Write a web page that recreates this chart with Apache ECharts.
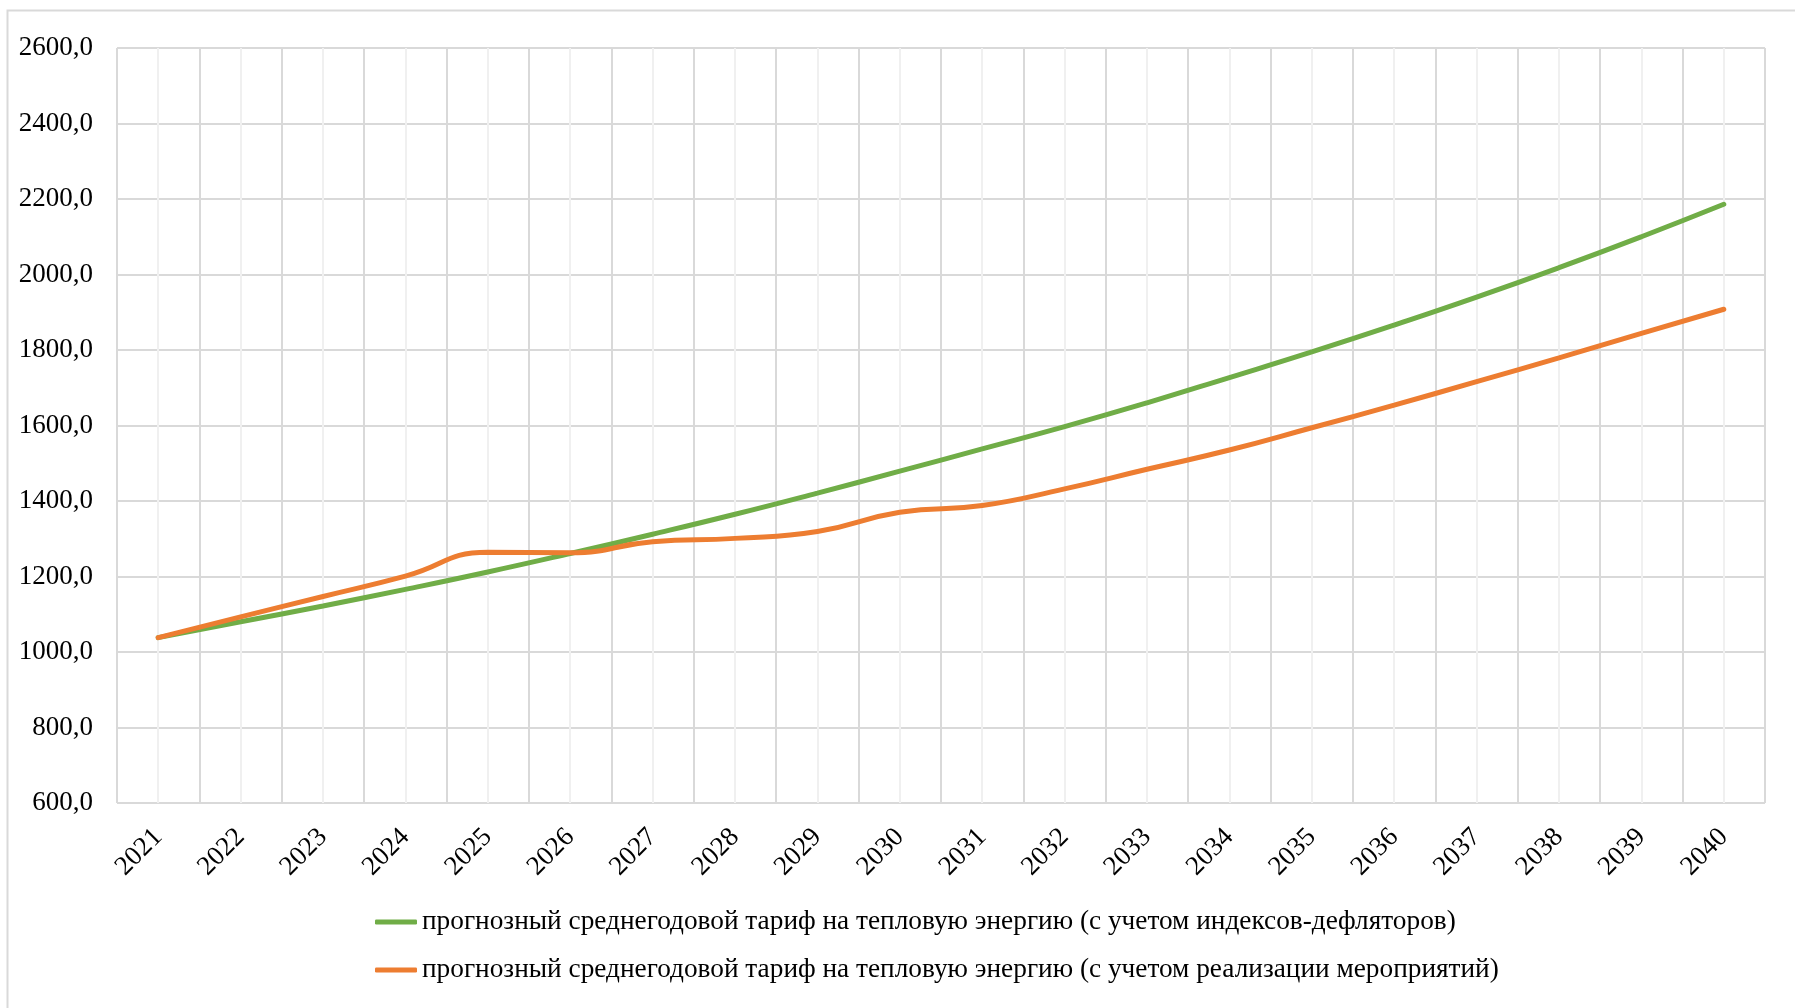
<!DOCTYPE html>
<html>
<head>
<meta charset="utf-8">
<script src="https://cdn.jsdelivr.net/npm/echarts@6/dist/echarts.min.js"></script>
<style>html,body{margin:0;padding:0;background:#fff;}#c{width:1795px;height:1008px;}</style>
</head>
<body>
<div id="c"></div>
<script>
const years = ['2021','2022','2023','2024','2025','2026','2027','2028','2029','2030','2031','2032','2033','2034','2035','2036','2037','2038','2039','2040'];
const seriesNames = [
  'прогнозный среднегодовой тариф на тепловую энергию (с учетом индексов-дефляторов)',
  'прогнозный среднегодовой тариф на тепловую энергию (с учетом реализации мероприятий)'
];
const deflatorValues = [1038, 1080, 1122, 1166, 1212, 1261, 1312, 1365, 1421, 1479, 1538, 1597, 1660, 1727, 1795, 1866, 1940, 2018, 2100, 2186];
const measuresValues = [1038, 1093, 1147, 1201, 1264, 1263, 1292, 1301, 1319, 1370, 1388, 1432, 1484, 1535, 1594, 1654, 1716, 1779, 1844, 1908];
const yMin = 600, yMax = 2600, yStep = 200;

const FONT = 'Liberation Serif';
const chart = echarts.init(document.getElementById('c'));
chart.setOption({
  animation: false,
  backgroundColor: '#fff',
  graphic: [{
    type: 'rect', silent: true, z: -10,
    shape: { x: 7.5, y: 10.5, width: 2000, height: 2000 },
    style: { fill: 'none', stroke: '#d9d9d9', lineWidth: 2 }
  }],
  grid: { left: 117, right: 30, top: 48, bottom: 205 },
  legend: {
    orient: 'vertical',
    left: 370,
    top: 902,
    padding: 5,
    icon: 'roundRect',
    itemWidth: 42,
    itemHeight: 5,
    itemGap: 18,
    textStyle: { fontFamily: FONT, fontSize: 27.3, lineHeight: 30, color: '#000' },
    data: seriesNames
  },
  xAxis: [{
    type: 'category',
    data: years,
    boundaryGap: true,
    axisLine: { show: false },
    axisTick: { show: false },
    splitLine: { show: false },
    axisLabel: { rotate: 45, margin: 30, fontFamily: FONT, fontSize: 27, color: '#000', interval: 0 }
  }, {
    type: 'value',
    min: 0, max: 40, interval: 2,
    position: 'bottom',
    axisLine: { show: false },
    axisTick: { show: false },
    axisLabel: { show: false },
    splitLine: { show: true, lineStyle: { color: '#d9d9d9', width: 2 } },
    minorTick: { show: false, splitNumber: 2 },
    minorSplitLine: { show: true, lineStyle: { color: '#f0f0f0', width: 2 } }
  }],
  yAxis: {
    type: 'value',
    min: yMin, max: yMax, interval: yStep,
    axisLine: { show: false },
    axisTick: { show: false },
    splitLine: { show: true, lineStyle: { color: '#d9d9d9', width: 2 } },
    axisLabel: {
      margin: 24, fontFamily: FONT, fontSize: 27, color: '#000',
      formatter: v => v.toFixed(1).replace('.', ',')
    }
  },
  series: [{
    name: seriesNames[0], type: 'line', xAxisIndex: 0, data: deflatorValues,
    smooth: true, symbol: 'none', color: '#70AD47',
    lineStyle: { width: 5, color: '#70AD47', cap: 'round' }
  }, {
    name: seriesNames[1], type: 'line', xAxisIndex: 0, data: measuresValues,
    smooth: true, symbol: 'none', color: '#ED7D31',
    lineStyle: { width: 5, color: '#ED7D31', cap: 'round' }
  }]
});
</script>
</body>
</html>
